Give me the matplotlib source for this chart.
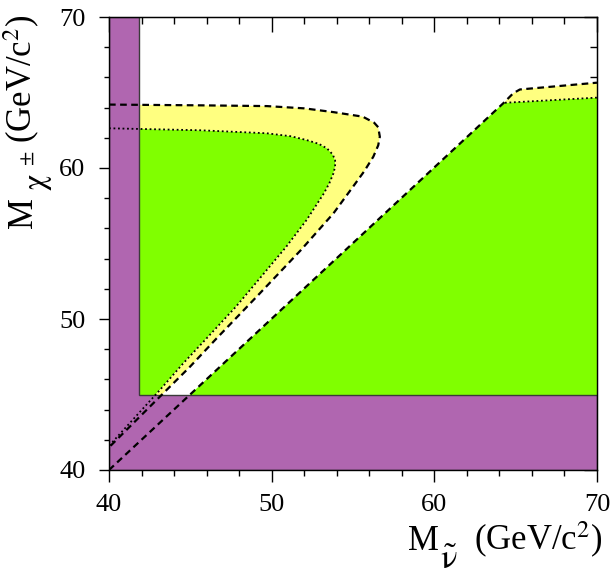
import matplotlib
matplotlib.use('Agg')
import matplotlib.pyplot as plt
from matplotlib.ticker import MultipleLocator

plt.rcParams['font.family'] = ['Liberation Serif', 'DejaVu Serif']
plt.rcParams['mathtext.fontset'] = 'stix'

# excluded region limits (purple L)
snu_limit = 41.84
chargino_limit = 45.0

# dotted contour (inner)
dot_x = [40.0, 45.6, 49.7, 51.2, 52.15, 52.9, 53.4, 53.75, 53.9, 53.9, 53.8, 53.55, 53.2,
         52.15, 50.9, 48.67, 47.8, 46.2, 44.57, 43.13, 40.0]
dot_y = [62.63, 62.5, 62.3, 62.1, 61.85, 61.6, 61.3, 60.9, 60.53, 60.1, 59.65, 59.0, 58.3,
         56.56, 54.79, 51.92, 50.81, 48.95, 47.07, 45.3, 41.6]

# dashed contour (outer)
dash_x = [40.0, 45.6, 49.7, 52.0, 53.8, 55.6, 56.3, 56.55, 56.65, 56.55, 56.25, 55.7, 55.0,
          53.8, 51.8, 49.08, 48.1, 46.6, 44.98, 43.44, 40.0]
dash_y = [64.2, 64.15, 64.1, 63.95, 63.7, 63.4, 63.0, 62.7, 62.07, 61.5, 60.75, 59.8, 58.76,
          57.0, 54.57, 51.48, 50.38, 48.7, 46.84, 45.19, 41.5]

# diagonal dashed line and its top-right continuation
diag_x = [40.0, 64.3, 64.85, 65.26, 70.0]
diag_y = [40.0, 64.35, 64.95, 65.2, 65.65]

# dotted line top right
dotr_x = [64.34, 70.0]
dotr_y = [64.32, 64.66]

green = '#80ff00'
yellow = '#ffff80'
purple = '#b066b0'

W, H = 611, 580
fig = plt.figure(figsize=(W / 100, H / 100), dpi=100)
ax = fig.add_axes([109 / W, 110 / H, 488 / W, 453 / H])

# left lobe: green inside dotted, yellow between dotted and dashed
ax.fill(dot_x + [40.0], dot_y + [dot_y[0]], color=green, lw=0, zorder=1)
ax.fill(dash_x + dot_x[::-1], dash_y + dot_y[::-1], color=yellow, lw=0, zorder=1)

# right part: green under diagonal and dotted, yellow up to dashed
ax.fill([40.0, diag_x[1]] + dotr_x + [70.0], [40.0, diag_y[1]] + dotr_y + [40.0],
        color=green, lw=0, zorder=1)
ax.fill(diag_x[1:] + dotr_x[::-1], diag_y[1:] + dotr_y[::-1], color=yellow, lw=0, zorder=1)

# purple excluded region
ax.fill([40, 70, 70, snu_limit, snu_limit, 40],
        [40, 40, chargino_limit, chargino_limit, 70, 70],
        facecolor=purple, edgecolor='#3a3a3a', lw=1.0, zorder=2)

ax.plot(dash_x, dash_y, color='black', lw=1.6, ls=(0, (3, 2)), zorder=3)
ax.plot(dot_x, dot_y, color='black', lw=1.3, ls=(0, (1, 1.5)), zorder=3)
ax.plot(diag_x, diag_y, color='black', lw=1.6, ls=(0, (3, 2)), zorder=3)
ax.plot(dotr_x, dotr_y, color='black', lw=1.3, ls=(0, (1, 1.5)), zorder=3)

ax.set_xlim(40, 70)
ax.set_ylim(40, 70)
for a in [ax.xaxis, ax.yaxis]:
    a.set_major_locator(MultipleLocator(10))
    a.set_minor_locator(MultipleLocator(2))
ax.tick_params(which='major', direction='out', width=1, labelsize=19)
ax.tick_params(axis='x', which='major', length=8.5, pad=9)
ax.tick_params(axis='y', which='major', length=7, pad=10)
ax.tick_params(axis='x', which='minor', direction='out', length=4.3, width=1)
ax.tick_params(axis='y', which='minor', direction='out', length=3.6, width=1)
for s in ax.spines.values():
    s.set_linewidth(1.0)
    s.set_zorder(5)

top = ax.secondary_xaxis('top')
right = ax.secondary_yaxis('right')
for sec, axis, lmaj, lmin in [(top, top.xaxis, 10.8, 5), (right, right.yaxis, 9.4, 5)]:
    axis.set_major_locator(MultipleLocator(10))
    axis.set_minor_locator(MultipleLocator(2))
    sec.tick_params(which='major', direction='in', length=lmaj, width=1, labelsize=0)
    sec.tick_params(which='minor', direction='in', length=lmin, width=1)
    axis.set_ticklabels([])


def label_piece(px, py, s, size, rot=0):
    # px, py: baseline start in pixels from the top-left corner
    fig.text(px / W, 1 - py / H, s, fontsize=size, rotation=rot,
             rotation_mode='anchor', ha='left', va='baseline')


# x axis title: M_{sneutrino} (GeV/c^2)
label_piece(408, 550, 'M', 25)
label_piece(440, 569, r'$\tilde{\mathrm{\nu}}$', 25)
label_piece(474, 550, r'(GeV/c$^{2}$)', 25)

# y axis title: M_{chargino} (GeV/c^2)
label_piece(32, 228, 'M', 25, 90)
label_piece(45, 191, r'$\mathrm{\chi}$', 23, 90)
label_piece(32, 166, r'$\pm$', 15, 90)
label_piece(32, 143, r'(GeV/c$^{2}$)', 25, 90)

fig.savefig('out.png', dpi=100)
